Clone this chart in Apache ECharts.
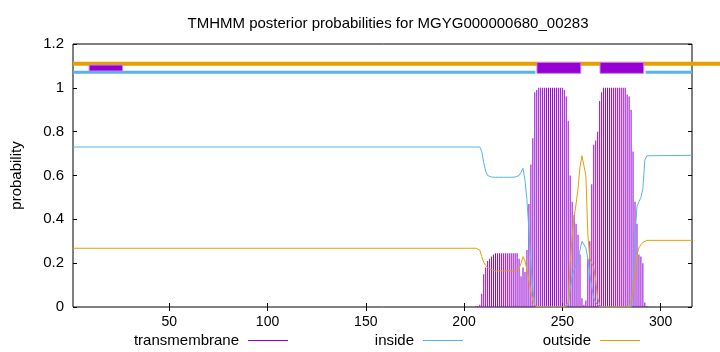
<!DOCTYPE html>
<html>
<head>
<meta charset="utf-8">
<script src="https://cdn.jsdelivr.net/npm/echarts@6/dist/echarts.min.js"></script>
<style>
html, body { margin: 0; background: #fff; }
#chart { width: 720px; height: 352px; }
</style>
</head>
<body>
<div id="chart"></div>
<script>
// sequence length and first residue of the detailed region
var seqLength = 316;
var firstPos = 206;
// flat levels before / after the detailed region
var insideHead = 0.73, insideTail = 0.692;
var outsideHead = 0.268, outsideTail = 0.304;

// residues 206..294
var inside = [
  0.73, 0.73, 0.73, 0.71, 0.66, 0.62, 0.60, 0.595, 0.593, 0.592,
  0.592, 0.592, 0.592, 0.592, 0.592, 0.592, 0.592, 0.592, 0.592, 0.592, 0.593, 0.594,
  0.60, 0.615, 0.633, 0.58, 0.49, 0.35, 0.2, 0.08, 0.01,
  0, 0, 0, 0, 0, 0, 0, 0, 0, 0, 0, 0, 0, 0, 0, 0,
  0.01, 0.08, 0.14, 0.17, 0.19, 0.21, 0.26, 0.30, 0.30, 0.27, 0.22, 0.15, 0.09, 0.04, 0.02, 0.01,
  0, 0, 0, 0, 0, 0, 0, 0, 0, 0, 0, 0, 0, 0, 0, 0,
  0.0, 0.08, 0.32, 0.46, 0.48, 0.50, 0.54, 0.67, 0.69, 0.692
];
var outside = [
  0.268, 0.268, 0.26, 0.23, 0.205, 0.19, 0.18, 0.175, 0.17, 0.167,
  0.165, 0.165, 0.165, 0.165, 0.165, 0.165, 0.165, 0.165, 0.165, 0.165, 0.165, 0.166,
  0.175, 0.2, 0.23, 0.21, 0.17, 0.12, 0.07, 0.03, 0.01,
  0, 0, 0, 0, 0, 0, 0, 0, 0, 0, 0, 0, 0, 0, 0, 0,
  0.02, 0.2, 0.32, 0.41, 0.47, 0.54, 0.64, 0.69, 0.69, 0.6, 0.33, 0.22, 0.2, 0.18, 0.12, 0.04, 0.01,
  0, 0, 0, 0, 0, 0, 0, 0, 0, 0, 0, 0, 0, 0, 0,
  0.03, 0.08, 0.15, 0.24, 0.27, 0.285, 0.295, 0.302, 0.304, 0.304
];
var transmembrane = [
  0.005, 0.005, 0.01, 0.06, 0.15, 0.18, 0.21, 0.22, 0.23, 0.24,
  0.245, 0.245, 0.245, 0.245, 0.245, 0.245, 0.245, 0.245, 0.245, 0.245, 0.245, 0.245,
  0.22, 0.14, 0.18, 0.16, 0.26, 0.47, 0.65, 0.77, 0.98, 0.99,
  1, 1, 1, 1, 1, 1, 1, 1, 1, 1, 1, 1, 1,
  0.99, 0.96, 0.85, 0.6, 0.48, 0.42, 0.38, 0.33, 0.24, 0.04,
  0.01, 0.03, 0.22, 0.3, 0.56, 0.74, 0.76, 0.8, 0.94, 0.98,
  1, 1, 1, 1, 1, 1, 1, 1, 1, 1, 1, 1,
  0.97, 0.96, 0.9, 0.71, 0.48, 0.38, 0.24, 0.23, 0.2, 0.02, 0.005, 0
];

var xTicks = [50, 100, 150, 200, 250, 300];

// topology track at the top (residue ranges)
var outsideTrack = [[1, 340]];
var insideTrack = [[1, 236.3], [292.4, 316]];
var tmTrack = [[237.1, 259.4], [269.2, 291.4]];
var extraTrack = [[9.2, 26.2]];

function toPairs(vals, head, tail) {
  var out = [];
  if (head !== undefined) out.push([1, head]);
  vals.forEach(function (v, i) { out.push([firstPos + i, v]); });
  if (tail !== undefined) out.push([seqLength, tail]);
  return out;
}

function trackSeries(name, segs, y0, y1, fill, stroke, z) {
  return {
    type: 'custom',
    name: name,
    clip: false,
    silent: true,
    z: z,
    data: segs,
    renderItem: function (params, api) {
      var a = api.coord([api.value(0), y1]);
      var b = api.coord([api.value(1), y0]);
      return {
        type: 'rect',
        shape: { x: a[0], y: a[1], width: b[0] - a[0], height: b[1] - a[1] },
        style: { fill: fill, stroke: stroke || null, lineWidth: stroke ? 1 : 0 }
      };
    }
  };
}

var font = 'Liberation Sans, Arial, sans-serif';
var chart = echarts.init(document.getElementById('chart'));

function legendFor(name, right) {
  return {
    data: [name],
    right: right,
    top: 333,
    padding: 0,
    align: 'right',
    icon: 'rect',
    itemWidth: 40,
    itemHeight: 1,
    textStyle: { fontFamily: font, fontSize: 15, color: '#000', padding: [0, 4, 0, 0] },
    selectedMode: false
  };
}

var option = {
  animation: false,
  title: {
    text: 'TMHMM posterior probabilities for MGYG000000680_00283',
    left: 383,
    textAlign: 'center',
    top: 11,
    textStyle: { fontFamily: font, fontSize: 15, fontWeight: 'normal', color: '#000' }
  },
  legend: [
    legendFor('transmembrane', 432),
    legendFor('inside', 257),
    legendFor('outside', 80)
  ],
  grid: { left: 73, right: 28, top: 44, bottom: 45, show: true, borderColor: '#000', borderWidth: 1 },
  xAxis: [{
    type: 'value',
    min: 1,
    max: seqLength,
    axisLine: { show: false },
    splitLine: { show: false },
    axisTick: { inside: true, length: 4, lineStyle: { color: '#000' }, customValues: xTicks },
    axisLabel: { color: '#000', fontFamily: font, fontSize: 14, margin: 8, customValues: xTicks }
  }, {
    type: 'value',
    position: 'top',
    min: 1,
    max: seqLength,
    axisLine: { show: false },
    splitLine: { show: false },
    axisTick: { inside: true, length: 4, lineStyle: { color: '#000' }, customValues: xTicks },
    axisLabel: { show: false, customValues: xTicks }
  }],
  yAxis: [{
    type: 'value',
    min: 0,
    max: 1.2,
    interval: 0.2,
    name: 'probability',
    nameLocation: 'middle',
    nameGap: 49,
    nameTextStyle: { fontFamily: font, fontSize: 15, color: '#000' },
    axisLine: { show: false },
    splitLine: { show: false },
    axisTick: { inside: true, length: 4, lineStyle: { color: '#000' } },
    axisLabel: { color: '#000', fontFamily: font, fontSize: 15, margin: 9 }
  }, {
    type: 'value',
    position: 'right',
    min: 0,
    max: 1.2,
    interval: 0.2,
    axisLine: { show: false },
    splitLine: { show: false },
    axisTick: { inside: true, length: 4, lineStyle: { color: '#000' } },
    axisLabel: { show: false }
  }],
  series: [
    {
      name: 'transmembrane',
      type: 'bar',
      color: '#9400D3',
      barWidth: 1,
      z: 2,
      data: toPairs(transmembrane)
    },
    {
      name: 'inside',
      type: 'line',
      color: '#56B4E9',
      symbol: 'none',
      lineStyle: { width: 1 },
      z: 3,
      data: toPairs(inside, insideHead, insideTail)
    },
    {
      name: 'outside',
      type: 'line',
      color: '#E69F00',
      symbol: 'none',
      lineStyle: { width: 1 },
      z: 4,
      data: toPairs(outside, outsideHead, outsideTail)
    },
    trackSeries('outsideTrack', outsideTrack, 1.101, 1.119, '#E69F00', null, 5),
    trackSeries('insideTrack', insideTrack, 1.064, 1.078, '#56B4E9', null, 5),
    trackSeries('tmTrack', tmTrack, 1.066, 1.116, '#9400D3', '#c77fe8', 6),
    trackSeries('extraTrack', extraTrack, 1.077, 1.104, '#9400D3', '#c77fe8', 6)
  ]
};
chart.setOption(option);
window.addEventListener('resize', function () { chart.resize(); });
</script>
</body>
</html>
